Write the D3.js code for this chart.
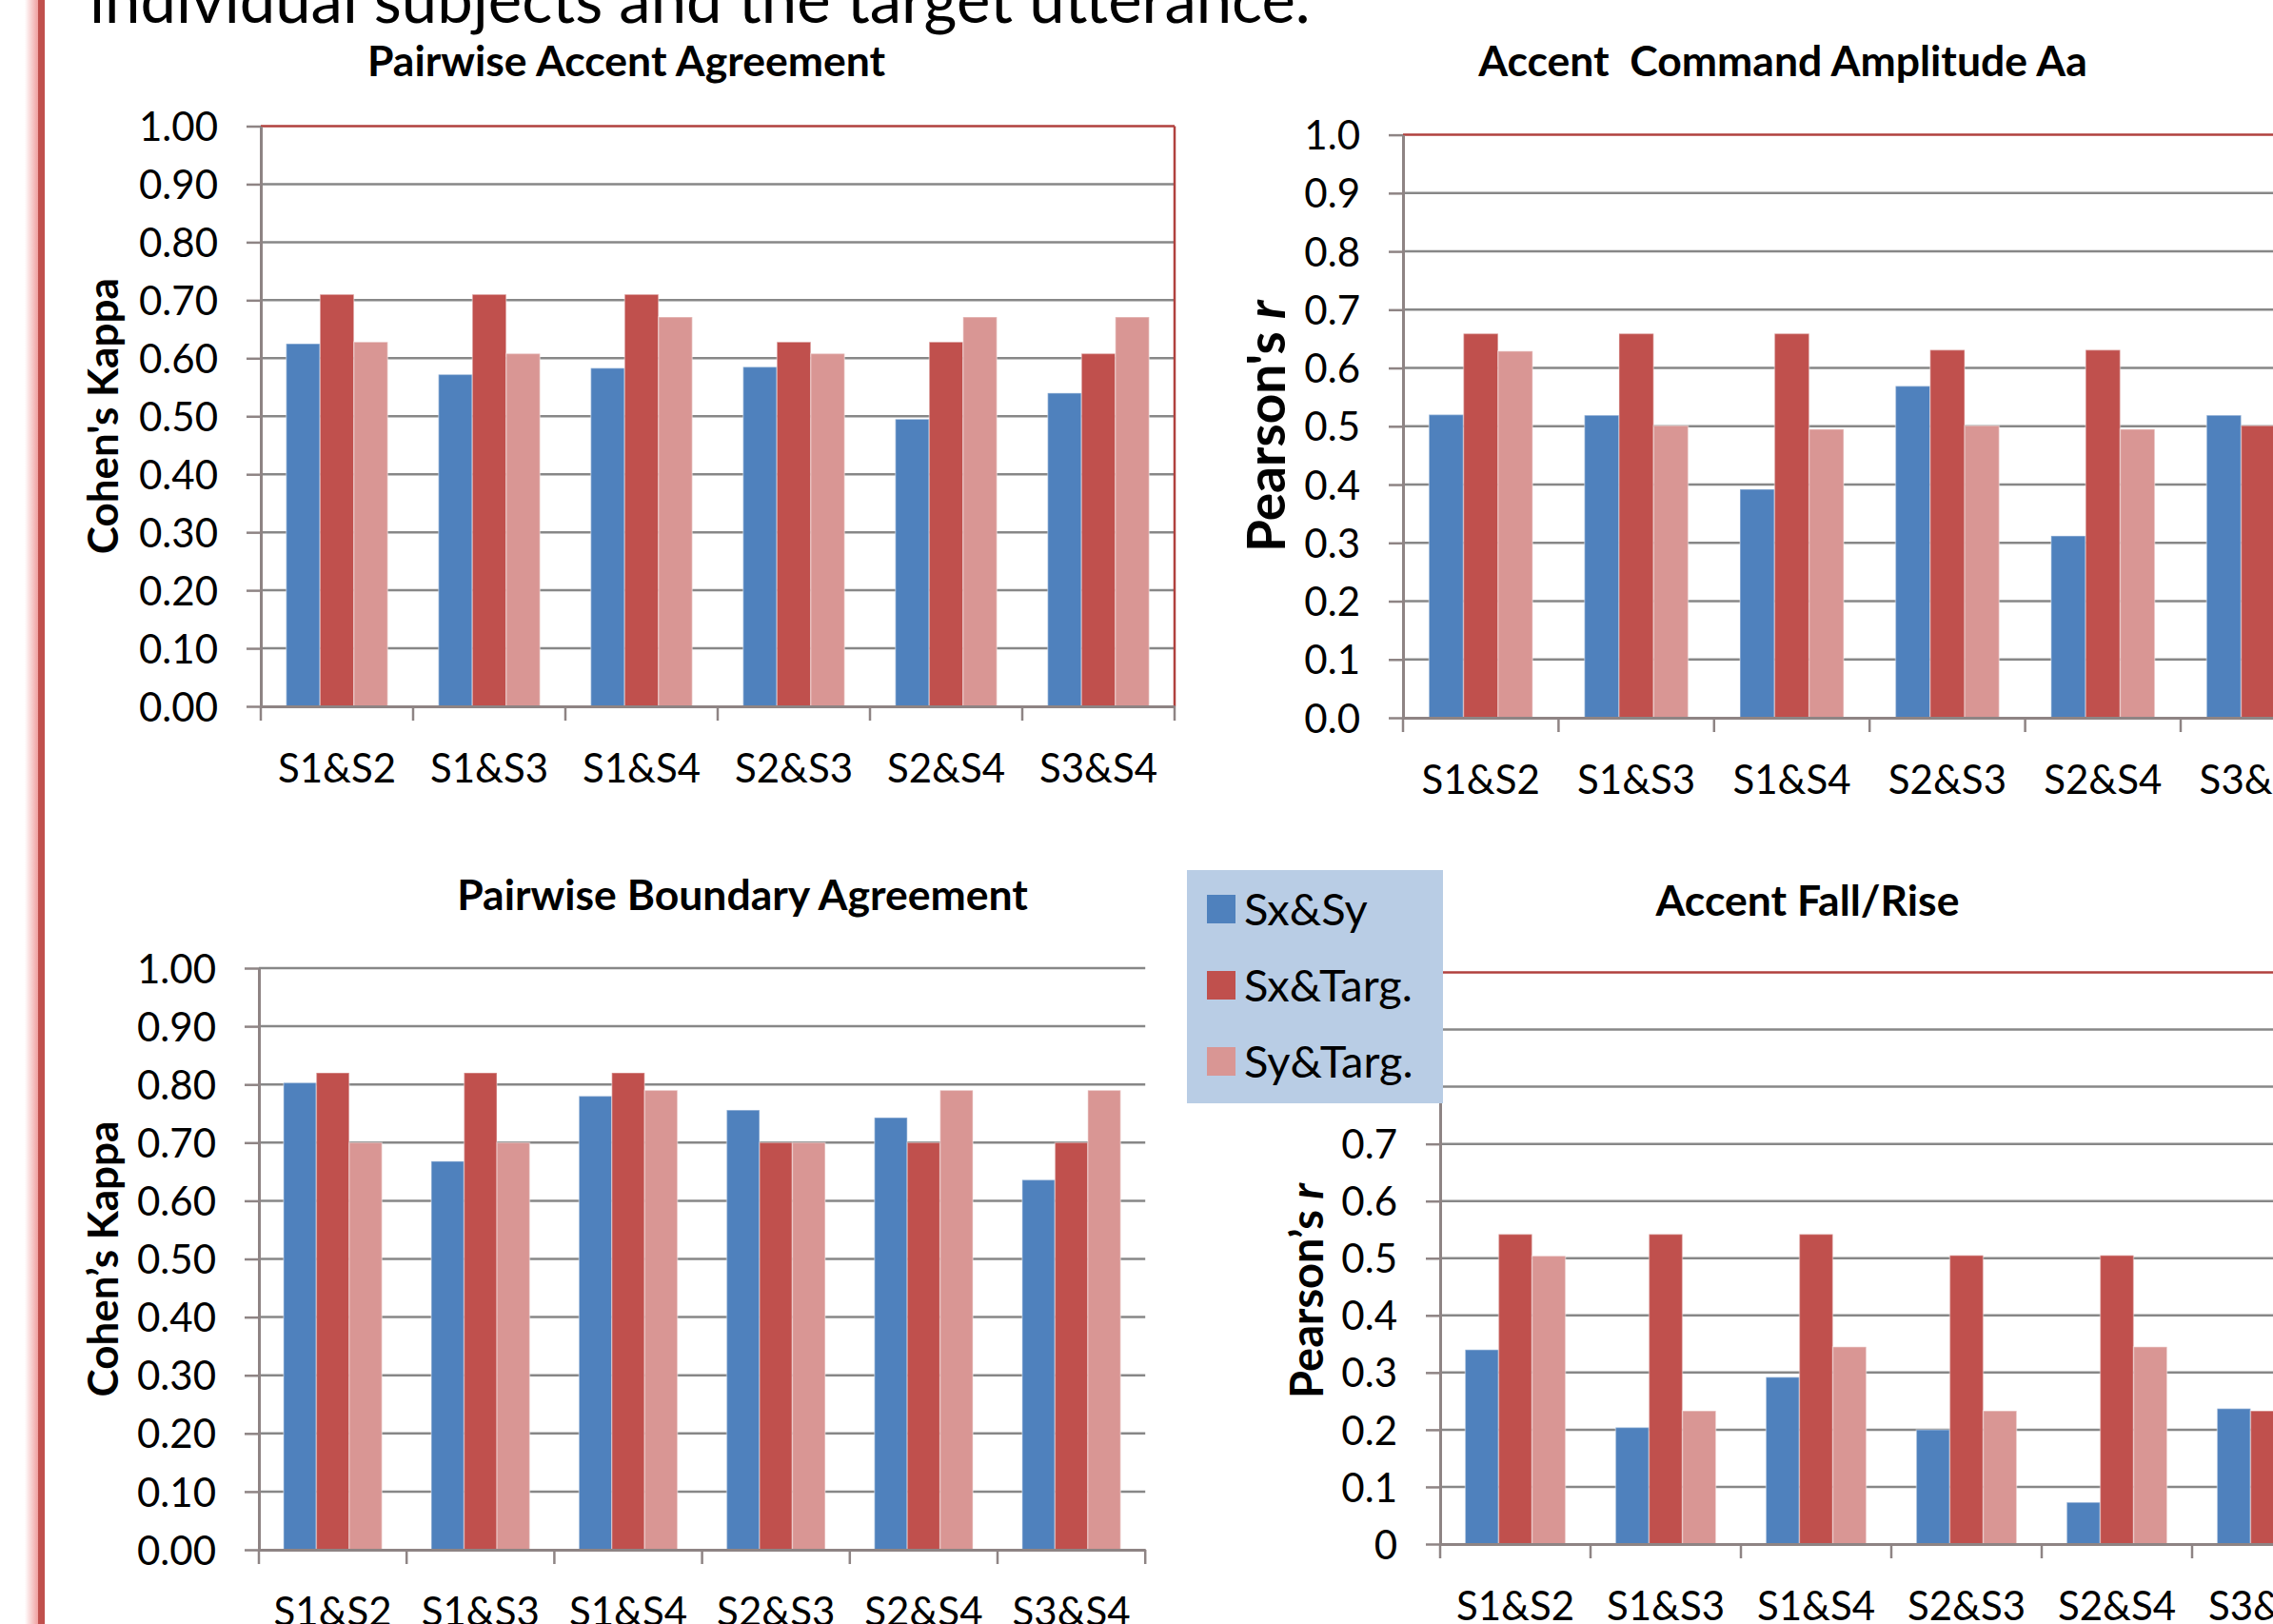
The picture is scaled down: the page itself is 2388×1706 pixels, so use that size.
<!DOCTYPE html>
<html>
<head>
<meta charset="utf-8">
<script src="https://cdn.jsdelivr.net/npm/d3@7"></script>
<style>
  body { margin: 0; background: #fff; overflow: hidden; }
  svg { display: block; font-family: Lato, "Open Sans", sans-serif; }
</style>
</head>
<body>
<svg id="chart" width="2388" height="1706"></svg>
<script>
// categories and series
const categories = ['S1&S2', 'S1&S3', 'S1&S4', 'S2&S3', 'S2&S4', 'S3&S4'];
const seriesNames = ['Sx&Sy', 'Sx&Targ.', 'Sy&Targ.'];
const seriesColors = ['#4f81bd', '#c0504d', '#d99694'];

// Pairwise Accent Agreement (Cohen's Kappa)
const accentSxSy   = [0.625, 0.572, 0.583, 0.585, 0.495, 0.540];
const accentSxTarg = [0.710, 0.710, 0.710, 0.628, 0.628, 0.608];
const accentSyTarg = [0.628, 0.608, 0.671, 0.608, 0.671, 0.671];

// Accent Command Amplitude Aa (Pearson's r), last pink bar is off the picture
const ampSxSy   = [0.520, 0.519, 0.392, 0.569, 0.312, 0.519];
const ampSxTarg = [0.659, 0.659, 0.659, 0.631, 0.631, 0.501];
const ampSyTarg = [0.629, 0.501, 0.495, 0.501, 0.495, 0.500];

// Pairwise Boundary Agreement (Cohen's Kappa)
const bndSxSy   = [0.803, 0.668, 0.780, 0.756, 0.743, 0.636];
const bndSxTarg = [0.820, 0.820, 0.820, 0.700, 0.700, 0.700];
const bndSyTarg = [0.700, 0.700, 0.790, 0.700, 0.790, 0.790];

// Accent Fall/Rise (Pearson's r), last pink bar is off the picture
const frSxSy   = [0.340, 0.204, 0.292, 0.200, 0.073, 0.237];
const frSxTarg = [0.542, 0.542, 0.542, 0.505, 0.505, 0.233];
const frSyTarg = [0.504, 0.233, 0.345, 0.233, 0.345, 0.230];

// tick values and labels
const unitTicks = [0, 0.1, 0.2, 0.3, 0.4, 0.5, 0.6, 0.7, 0.8, 0.9, 1];
const kappaTickLabels = ['0.00', '0.10', '0.20', '0.30', '0.40', '0.50', '0.60', '0.70', '0.80', '0.90', '1.00'];
const pearsonTickLabels = ['0.0', '0.1', '0.2', '0.3', '0.4', '0.5', '0.6', '0.7', '0.8', '0.9', '1.0'];
const fallRiseTickLabels = ['0', '0.1', '0.2', '0.3', '0.4', '0.5', '0.6', '0.7', '0.8', '0.9', '1'];

const svg = d3.select('#chart');
const gridColor = '#878787';
const axisColor = '#8e8484';
const frameColor = '#b0413e';

// poster frame on the left
const defs = svg.append('defs');
const glow = defs.append('linearGradient').attr('id', 'glow');
glow.append('stop').attr('offset', '0%').attr('stop-color', '#fff');
glow.append('stop').attr('offset', '100%').attr('stop-color', '#f0a0a0');
svg.append('rect').attr('x', 26).attr('y', 0).attr('width', 14).attr('height', 1706).attr('fill', 'url(#glow)');
svg.append('rect').attr('x', 40).attr('y', 0).attr('width', 7).attr('height', 1706).attr('fill', '#c0504d');

// the sentence cut off at the top
svg.append('text')
  .attr('x', 94).attr('y', 24)
  .attr('font-size', 67)
  .text('individual subjects and the target utterance.');

function drawChart(cfg) {
  const g = svg.append('g');
  const right = cfg.left + cfg.step * categories.length;

  const x = d3.scaleBand().domain(categories)
    .range([cfg.left, right]).paddingInner(1 / 3).paddingOuter(1 / 6);
  const xs = d3.scaleBand().domain(seriesNames).range([0, x.bandwidth()]);
  const y = d3.scaleLinear().domain([0, 1]).range([cfg.bottom, cfg.top]);

  // gridlines
  g.append('g').selectAll('line')
    .data(unitTicks.slice(1))
    .join('line')
    .attr('x1', cfg.left).attr('x2', right)
    .attr('y1', d => y(d)).attr('y2', d => y(d))
    .attr('stroke', d => (d === 1 && cfg.frame) ? frameColor : gridColor)
    .attr('stroke-width', 2.5);

  if (cfg.frame) {
    g.append('line')
      .attr('x1', right).attr('x2', right)
      .attr('y1', y(1)).attr('y2', y(0))
      .attr('stroke', frameColor).attr('stroke-width', 2.5);
  }

  // bars
  const values = [cfg.a, cfg.b, cfg.c];
  g.append('g').selectAll('g')
    .data(values)
    .join('g')
    .attr('fill', (d, i) => seriesColors[i])
    .selectAll('rect')
    .data((vals, i) => vals.map((v, j) => ({ cat: categories[j], s: seriesNames[i], v: v })))
    .join('rect')
    .attr('x', d => x(d.cat) + xs(d.s))
    .attr('width', xs.bandwidth())
    .attr('y', d => y(d.v))
    .attr('height', d => y(0) - y(d.v))
    .attr('stroke', 'rgba(255,255,255,0.35)')
    .attr('stroke-width', 1.5);

  // y axis
  const yAxis = d3.axisLeft(y)
    .tickValues(unitTicks)
    .tickFormat((d, i) => cfg.tickLabels[i])
    .tickSize(15).tickSizeOuter(0).tickPadding(30);
  const yg = g.append('g')
    .attr('transform', 'translate(' + cfg.left + ',0)')
    .call(yAxis);
  yg.select('.domain').attr('stroke', axisColor).attr('stroke-width', 3);
  yg.selectAll('.tick line').attr('stroke', axisColor).attr('stroke-width', 2.5);
  yg.selectAll('.tick text')
    .attr('fill', '#000').attr('font-size', cfg.tickSize)
    .attr('font-family', 'Lato').attr('dy', '0.36em');

  // x axis
  const xAxis = d3.axisBottom(x).tickSize(0).tickSizeOuter(0);
  const xg = g.append('g')
    .attr('transform', 'translate(0,' + cfg.bottom + ')')
    .call(xAxis);
  xg.select('.domain').attr('stroke', axisColor).attr('stroke-width', 3);
  xg.selectAll('.tick text')
    .attr('fill', '#000').attr('font-size', cfg.tickSize)
    .attr('font-family', 'Lato').attr('y', 80).attr('dy', null);

  // category boundary ticks
  xg.append('g').selectAll('line')
    .data(d3.range(categories.length + 1))
    .join('line')
    .attr('x1', i => cfg.left + i * x.step()).attr('x2', i => cfg.left + i * x.step())
    .attr('y1', 0).attr('y2', 15)
    .attr('stroke', axisColor).attr('stroke-width', 2.5);

  // titles
  g.append('text')
    .attr('x', cfg.titleX).attr('y', cfg.titleY)
    .attr('text-anchor', 'middle')
    .attr('font-weight', 700).attr('font-size', cfg.titleSize)
    .text(cfg.title);

  const yt = g.append('text')
    .attr('transform', 'translate(' + cfg.yTitleX + ',' + (cfg.yTitleY || (cfg.top + cfg.bottom) / 2) + ') rotate(-90)')
    .attr('text-anchor', 'middle')
    .attr('font-weight', 700).attr('font-size', cfg.yTitleSize);
  yt.append('tspan').text(cfg.yTitle);
  if (cfg.yTitleItalic) yt.append('tspan').attr('font-style', 'italic').text(cfg.yTitleItalic);
}

drawChart({
  left: 274, step: 160, top: 132.5, bottom: 742,
  a: accentSxSy, b: accentSxTarg, c: accentSyTarg,
  tickLabels: kappaTickLabels, tickSize: 42, frame: true,
  title: 'Pairwise Accent Agreement', titleX: 658, titleY: 80, titleSize: 44.5,
  yTitle: "Cohen's Kappa", yTitleX: 124, yTitleSize: 44
});

drawChart({
  left: 1474, step: 163.4, top: 141.6, bottom: 754,
  a: ampSxSy, b: ampSxTarg, c: ampSyTarg,
  tickLabels: pearsonTickLabels, tickSize: 42, frame: true,
  title: 'Accent\u00a0 Command Amplitude Aa', titleX: 1873, titleY: 80, titleSize: 44.5,
  yTitle: "Pearson's ", yTitleItalic: 'r', yTitleX: 1350, yTitleSize: 55
});

drawChart({
  left: 272, step: 155.2, top: 1017, bottom: 1628,
  a: bndSxSy, b: bndSxTarg, c: bndSyTarg,
  tickLabels: kappaTickLabels, tickSize: 42, frame: false,
  title: 'Pairwise Boundary Agreement', titleX: 780, titleY: 956, titleSize: 44.5,
  yTitle: 'Cohen\u2019s Kappa', yTitleX: 124, yTitleSize: 44
});

drawChart({
  left: 1513, step: 158, top: 1021.5, bottom: 1622,
  a: frSxSy, b: frSxTarg, c: frSyTarg,
  tickLabels: fallRiseTickLabels, tickSize: 42, frame: true,
  title: 'Accent Fall/Rise', titleX: 1899, titleY: 962, titleSize: 44.5,
  yTitle: 'Pearson\u2019s ', yTitleItalic: 'r', yTitleX: 1390, yTitleY: 1356, yTitleSize: 47
});

// legend box laid over the lower right chart
const legend = svg.append('g').attr('transform', 'translate(1247,914)');
legend.append('rect').attr('width', 269).attr('height', 245).attr('fill', '#b9cde5');
const item = legend.selectAll('g.item')
  .data(seriesNames)
  .join('g')
  .attr('class', 'item')
  .attr('transform', (d, i) => 'translate(0,' + (41 + i * 80) + ')');
item.append('rect')
  .attr('x', 21).attr('y', -15).attr('width', 30).attr('height', 30)
  .attr('fill', (d, i) => seriesColors[i]);
item.append('text')
  .attr('x', 60).attr('dy', '0.36em')
  .attr('font-size', 47)
  .text(d => d);
</script>
</body>
</html>
